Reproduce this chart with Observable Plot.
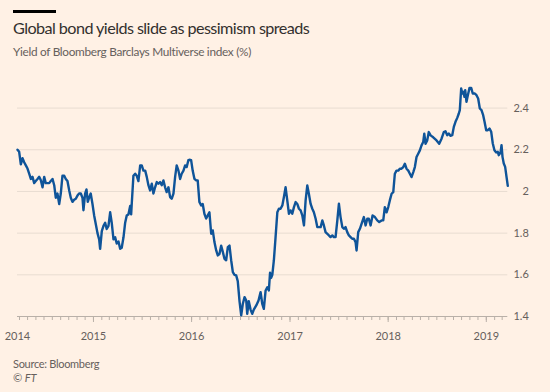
<!DOCTYPE html>
<html><head><meta charset="utf-8">
<script src="https://cdn.jsdelivr.net/npm/d3@7"></script>
<script src="https://cdn.jsdelivr.net/npm/@observablehq/plot@0.6"></script>
<style>
html,body{margin:0;padding:0;background:#fff1e5;}
body{width:550px;height:392px;position:relative;overflow:hidden;font-family:Lato,"Noto Sans",sans-serif;}
#bar{position:absolute;left:13px;top:10px;width:43px;height:3px;background:#000;}
#title{position:absolute;left:13px;top:18px;font-size:16.2px;letter-spacing:-0.57px;line-height:20px;color:#33302e;white-space:nowrap;}
#subtitle{position:absolute;left:13px;top:44px;font-size:11.8px;letter-spacing:-0.3px;line-height:15px;color:#66605c;white-space:nowrap;}
#chart{position:absolute;left:0;top:70px;}
#source{position:absolute;left:13px;top:357px;font-size:11px;letter-spacing:-0.3px;line-height:14px;color:#66605c;white-space:nowrap;}
#ft{position:absolute;left:13px;top:371px;font-size:11px;line-height:14px;color:#66605c;font-style:italic;}
</style></head>
<body>
<div id="bar"></div>
<div id="title">Global bond yields slide as pessimism spreads</div>
<div id="subtitle">Yield of Bloomberg Barclays Multiverse index (%)</div>
<div id="chart"></div>
<div id="source">Source: Bloomberg</div>
<div id="ft">© FT</div>
<script>
// decimal years (weekly-ish observations)
const years = [
2014.226,2014.243,2014.260,2014.277,2014.294,2014.311,2014.328,2014.345,2014.362,2014.379,
2014.396,2014.412,2014.430,2014.447,2014.463,2014.481,2014.498,2014.514,2014.532,2014.549,
2014.565,2014.583,2014.600,2014.616,2014.633,2014.651,2014.667,2014.684,2014.702,2014.718,
2014.735,2014.753,2014.769,2014.786,2014.803,2014.820,2014.837,2014.854,2014.871,2014.888,
2014.898,2014.915,2014.929,2014.942,2014.956,2014.972,2014.990,2015.007,2015.023,2015.041,
2015.058,2015.068,2015.085,2015.102,2015.119,2015.135,2015.153,2015.170,2015.186,2015.204,
2015.221,2015.237,2015.255,2015.272,2015.288,2015.306,2015.323,2015.339,2015.356,2015.374,
2015.384,2015.390,2015.407,2015.425,2015.441,2015.458,2015.476,2015.492,2015.509,2015.527,
2015.543,2015.560,2015.577,2015.594,2015.611,2015.628,2015.645,2015.662,2015.679,2015.696,
2015.713,2015.730,2015.746,2015.764,2015.781,2015.797,2015.815,2015.832,2015.848,2015.866,
2015.883,2015.899,2015.917,2015.934,2015.950,2015.967,2015.978,2015.995,2016.011,2016.029,
2016.046,2016.062,2016.079,2016.097,2016.113,2016.130,2016.148,2016.164,2016.181,2016.199,
2016.215,2016.232,2016.250,2016.266,2016.283,2016.300,2016.317,2016.334,2016.351,2016.368,
2016.385,2016.402,2016.419,2016.436,2016.453,2016.469,2016.487,2016.504,2016.520,2016.538,
2016.555,2016.565,2016.581,2016.599,2016.616,2016.632,2016.657,2016.680,2016.701,2016.718,
2016.734,2016.752,2016.769,2016.785,2016.797,2016.808,2016.820,2016.836,2016.853,2016.871,
2016.887,2016.904,2016.922,2016.938,2016.955,2016.972,2016.989,2017.006,2017.023,2017.040,
2017.057,2017.074,2017.091,2017.108,2017.125,2017.142,2017.159,2017.176,2017.192,2017.210,
2017.227,2017.243,2017.261,2017.278,2017.294,2017.312,2017.329,2017.345,2017.362,2017.380,
2017.396,2017.413,2017.431,2017.447,2017.464,2017.482,2017.498,2017.515,2017.533,2017.549,
2017.566,2017.583,2017.600,2017.617,2017.634,2017.651,2017.668,2017.678,2017.695,2017.712,
2017.729,2017.752,2017.770,2017.787,2017.803,2017.821,2017.841,2017.865,2017.889,2017.909,
2017.933,2017.950,2017.966,2017.984,2018.001,2018.017,2018.035,2018.052,2018.068,2018.085,
2018.103,2018.119,2018.136,2018.154,2018.170,2018.187,2018.205,2018.221,2018.238,2018.256,
2018.272,2018.289,2018.306,2018.323,2018.340,2018.357,2018.368,2018.381,2018.398,2018.414,
2018.432,2018.459,2018.493,2018.520,2018.544,2018.567,2018.584,2018.602,2018.618,2018.635,
2018.653,2018.669,2018.686,2018.704,2018.720,2018.730,2018.744,2018.755,2018.765,2018.778,
2018.785,2018.798,2018.812,2018.829,2018.846,2018.862,2018.883,2018.900,2018.917,2018.934,
2018.951,2018.968,2018.982,2018.999,2019.015,2019.033,2019.050,2019.066,2019.083,2019.101,
2019.117,2019.127,2019.145,2019.155,2019.165,2019.178,2019.192,2019.206,2019.219
];
const yields = [
2.20,2.19,2.13,2.16,2.14,2.125,2.11,2.085,2.06,2.07,
2.04,2.05,2.06,2.07,2.055,2.02,2.07,2.04,2.04,2.04,
2.05,2.06,2.03,1.97,1.99,1.94,1.99,2.075,2.075,2.06,
2.05,2.005,1.97,1.95,1.96,1.965,1.98,1.99,1.99,1.97,
1.91,1.99,2.01,1.95,1.97,1.99,1.94,1.885,1.845,1.80,
1.77,1.725,1.81,1.835,1.85,1.82,1.835,1.90,1.85,1.77,
1.78,1.75,1.76,1.725,1.73,1.78,1.85,1.885,1.89,1.93,
1.89,1.94,2.075,2.085,2.075,2.05,2.125,2.125,2.10,2.10,
2.07,2.03,2.005,2.037,1.99,2.02,2.045,2.037,2.045,2.03,
2.053,2.02,1.997,2.02,1.973,1.965,1.99,2.07,2.125,2.10,
2.06,2.085,2.10,2.125,2.117,2.15,2.152,2.15,2.10,2.06,
2.053,2.053,1.95,1.933,1.94,1.893,1.87,1.885,1.90,1.797,
1.813,1.757,1.717,1.693,1.70,1.74,1.71,1.677,1.67,1.733,
1.74,1.67,1.613,1.60,1.597,1.57,1.473,1.406,1.46,1.493,
1.477,1.413,1.473,1.433,1.413,1.433,1.453,1.477,1.517,1.46,
1.437,1.525,1.54,1.525,1.61,1.585,1.60,1.67,1.78,1.90,
1.917,1.917,1.933,1.973,2.02,1.957,1.893,1.909,1.893,1.925,
1.949,1.94,1.917,1.909,1.885,1.837,1.957,2.029,1.989,1.94,
1.917,1.90,1.869,1.829,1.829,1.829,1.861,1.837,1.805,1.797,
1.789,1.781,1.789,1.781,1.781,1.861,1.941,1.877,1.829,1.821,
1.829,1.805,1.789,1.781,1.773,1.773,1.757,1.717,1.805,1.821,
1.845,1.877,1.837,1.869,1.869,1.837,1.885,1.877,1.861,1.853,
1.861,1.861,1.925,1.90,1.925,1.957,1.989,1.997,2.085,2.10,
2.10,2.109,2.109,2.117,2.133,2.109,2.10,2.085,2.069,2.093,
2.117,2.165,2.181,2.197,2.221,2.237,2.277,2.229,2.245,2.285,
2.269,2.26,2.245,2.229,2.253,2.285,2.289,2.27,2.278,2.267,
2.27,2.31,2.334,2.353,2.374,2.39,2.494,2.47,2.478,2.454,
2.486,2.43,2.462,2.497,2.497,2.47,2.47,2.462,2.446,2.398,
2.39,2.366,2.334,2.294,2.294,2.302,2.286,2.23,2.198,2.187,
2.19,2.174,2.187,2.222,2.166,2.134,2.118,2.07,2.027
];
const yTicks = [1.4, 1.6, 1.8, 2.0, 2.2, 2.4];
const yTickLabels = ["1.4", "1.6", "1.8", "2", "2.2", "2.4"];
const xLabels = ["2014", "2015", "2016", "2017", "2018", "2019"];

function toDate(y) {
  const yr = Math.floor(y);
  const s = Date.UTC(yr, 0, 1), e = Date.UTC(yr + 1, 0, 1);
  return new Date(s + (y - yr) * (e - s));
}
const data = years.map((y, i) => ({date: toDate(y), value: yields[i]}));
const x0 = data[0].date, x1 = data[data.length - 1].date;
const months = d3.utcMonth.range(d3.utcMonth.ceil(x0), x1);
const yearStarts = months.filter(d => d.getUTCMonth() === 0);
const labelData = xLabels.map((t, i) => ({text: t, date: i === 0 ? x0 : new Date(Date.UTC(+t, 0, 1)), anchor: i === 0 ? "start" : "middle"}));
const tickData = yTicks.map((v, i) => ({v, t: yTickLabels[i]}));

const axisColor = "#b9b0a8";
const chart = Plot.plot({
  width: 550, height: 280,
  marginLeft: 17, marginRight: 42.7, marginTop: 16.75, marginBottom: 34,
  style: {background: "transparent", fontFamily: "Lato, 'Noto Sans', sans-serif", fontSize: "11px", color: "#66605c", overflow: "visible"},
  x: {type: "utc", domain: [x0, x1], axis: null},
  y: {domain: [1.4, 2.5], axis: null},
  marks: [
    Plot.ruleY(yTicks.slice(1), {stroke: "#e8dcd1", strokeWidth: 1}),
    Plot.ruleY([1.4], {stroke: axisColor, strokeWidth: 1}),
    Plot.axisX({ticks: months, tickSize: 4, tickFormat: () => "", stroke: axisColor}),
    Plot.axisX({ticks: yearStarts, tickSize: 6, tickFormat: () => "", stroke: axisColor}),
    Plot.text(labelData, {x: "date", text: "text", textAnchor: "anchor", frameAnchor: "bottom", dy: 19.5, lineAnchor: "middle", fill: "#66605c"}),
    Plot.text(tickData, {y: "v", text: "t", frameAnchor: "right", dx: 21, textAnchor: "end", fill: "#66605c"}),
    Plot.line(data, {x: "date", y: "value", stroke: "#0f5499", strokeWidth: 2.4, strokeLinejoin: "round", strokeLinecap: "round"})
  ]
});
document.getElementById("chart").appendChild(chart);
</script>
</body></html>
